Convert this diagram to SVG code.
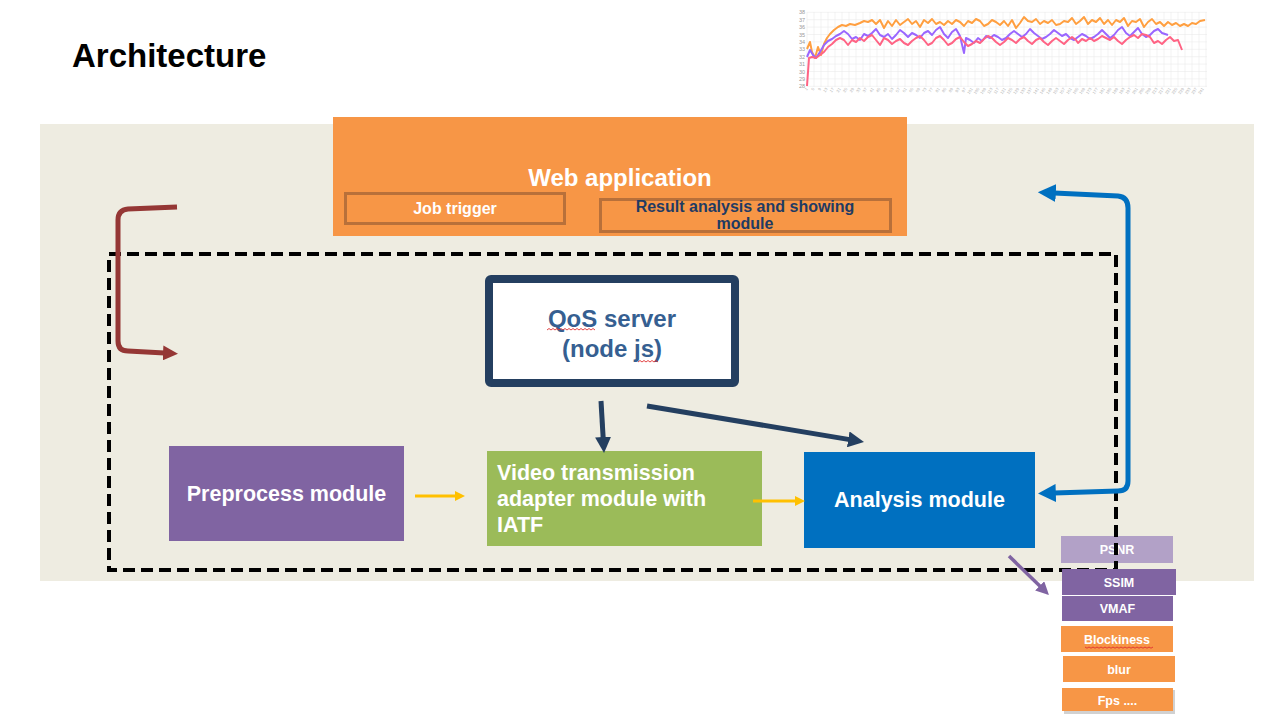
<svg xmlns="http://www.w3.org/2000/svg" width="1273" height="721" viewBox="0 0 1273 721">
<style>
  text { font-family: "Liberation Sans", Arial, sans-serif; font-weight: bold; }
  .w { fill: #ffffff; }
  .mid { text-anchor: middle; }
  .metric { font-size: 12.5px; fill: #ffffff; text-anchor: middle; }
  .grid { stroke: #ebebeb; stroke-width: 0.6; }
  .ylab { font-size: 5.5px; fill: #999999; font-weight: normal; text-anchor: end; }
  .xlab { font-size: 4px; fill: #aaaaaa; font-weight: normal; text-anchor: end; }
  .series { fill: none; stroke-width: 2; stroke-linejoin: round; }
  .squig { fill: none; stroke: #e03030; stroke-width: 0.9; }
</style>
<defs>
  <marker id="ahNavy" viewBox="0 0 10 10" refX="1" refY="5" markerUnits="userSpaceOnUse" markerWidth="16" markerHeight="16" orient="auto">
    <path d="M0,0 L10,5 L0,10 z" fill="#243F60"/>
  </marker>
  <marker id="ahRed" viewBox="0 0 10 10" refX="1" refY="5" markerUnits="userSpaceOnUse" markerWidth="15" markerHeight="15" orient="auto">
    <path d="M0,0 L10,5 L0,10 z" fill="#953735"/>
  </marker>
  <marker id="ahBlue" viewBox="0 0 10 10" refX="1" refY="5" markerUnits="userSpaceOnUse" markerWidth="18" markerHeight="18" orient="auto-start-reverse">
    <path d="M0,0 L10,5 L0,10 z" fill="#0070C0"/>
  </marker>
  <marker id="ahYellow" viewBox="0 0 10 10" refX="1" refY="5" markerUnits="userSpaceOnUse" markerWidth="10" markerHeight="10" orient="auto">
    <path d="M0,0 L10,5 L0,10 z" fill="#FFC000"/>
  </marker>
  <marker id="ahPurple" viewBox="0 0 10 10" refX="1" refY="5" markerUnits="userSpaceOnUse" markerWidth="13" markerHeight="13" orient="auto">
    <path d="M0,0 L10,5 L0,10 z" fill="#8064A2"/>
  </marker>
</defs>

<rect width="1273" height="721" fill="#ffffff"/>

<text x="72" y="67" font-size="33" fill="#000000">Architecture</text>

<!-- chart -->
<g id="chart">
  <g class="grid">
    <line x1="807" y1="12.3" x2="1207" y2="12.3"/>
    <line x1="807" y1="19.7" x2="1207" y2="19.7"/>
    <line x1="807" y1="27.1" x2="1207" y2="27.1"/>
    <line x1="807" y1="34.5" x2="1207" y2="34.5"/>
    <line x1="807" y1="41.9" x2="1207" y2="41.9"/>
    <line x1="807" y1="49.3" x2="1207" y2="49.3"/>
    <line x1="807" y1="56.7" x2="1207" y2="56.7"/>
    <line x1="807" y1="64.1" x2="1207" y2="64.1"/>
    <line x1="807" y1="71.5" x2="1207" y2="71.5"/>
    <line x1="807" y1="78.9" x2="1207" y2="78.9"/>
    <line x1="807" y1="86.3" x2="1207" y2="86.3"/>
    <line x1="807" y1="12" x2="807" y2="87"/><line x1="814" y1="12" x2="814" y2="87"/><line x1="821" y1="12" x2="821" y2="87"/><line x1="828" y1="12" x2="828" y2="87"/><line x1="835" y1="12" x2="835" y2="87"/><line x1="842" y1="12" x2="842" y2="87"/><line x1="849" y1="12" x2="849" y2="87"/><line x1="856" y1="12" x2="856" y2="87"/><line x1="863" y1="12" x2="863" y2="87"/><line x1="870" y1="12" x2="870" y2="87"/><line x1="877" y1="12" x2="877" y2="87"/><line x1="884" y1="12" x2="884" y2="87"/><line x1="891" y1="12" x2="891" y2="87"/><line x1="898" y1="12" x2="898" y2="87"/><line x1="905" y1="12" x2="905" y2="87"/><line x1="912" y1="12" x2="912" y2="87"/><line x1="919" y1="12" x2="919" y2="87"/><line x1="926" y1="12" x2="926" y2="87"/><line x1="933" y1="12" x2="933" y2="87"/><line x1="940" y1="12" x2="940" y2="87"/><line x1="947" y1="12" x2="947" y2="87"/><line x1="954" y1="12" x2="954" y2="87"/><line x1="961" y1="12" x2="961" y2="87"/><line x1="968" y1="12" x2="968" y2="87"/><line x1="975" y1="12" x2="975" y2="87"/><line x1="982" y1="12" x2="982" y2="87"/><line x1="989" y1="12" x2="989" y2="87"/><line x1="996" y1="12" x2="996" y2="87"/><line x1="1003" y1="12" x2="1003" y2="87"/><line x1="1010" y1="12" x2="1010" y2="87"/><line x1="1017" y1="12" x2="1017" y2="87"/><line x1="1024" y1="12" x2="1024" y2="87"/><line x1="1031" y1="12" x2="1031" y2="87"/><line x1="1038" y1="12" x2="1038" y2="87"/><line x1="1045" y1="12" x2="1045" y2="87"/><line x1="1052" y1="12" x2="1052" y2="87"/><line x1="1059" y1="12" x2="1059" y2="87"/><line x1="1066" y1="12" x2="1066" y2="87"/><line x1="1073" y1="12" x2="1073" y2="87"/><line x1="1080" y1="12" x2="1080" y2="87"/><line x1="1087" y1="12" x2="1087" y2="87"/><line x1="1094" y1="12" x2="1094" y2="87"/><line x1="1101" y1="12" x2="1101" y2="87"/><line x1="1108" y1="12" x2="1108" y2="87"/><line x1="1115" y1="12" x2="1115" y2="87"/><line x1="1122" y1="12" x2="1122" y2="87"/><line x1="1129" y1="12" x2="1129" y2="87"/><line x1="1136" y1="12" x2="1136" y2="87"/><line x1="1143" y1="12" x2="1143" y2="87"/><line x1="1150" y1="12" x2="1150" y2="87"/><line x1="1157" y1="12" x2="1157" y2="87"/><line x1="1164" y1="12" x2="1164" y2="87"/><line x1="1171" y1="12" x2="1171" y2="87"/><line x1="1178" y1="12" x2="1178" y2="87"/><line x1="1185" y1="12" x2="1185" y2="87"/><line x1="1192" y1="12" x2="1192" y2="87"/><line x1="1199" y1="12" x2="1199" y2="87"/><line x1="1206" y1="12" x2="1206" y2="87"/>
  </g>
  <text class="ylab" x="805" y="14.3">38</text>
  <text class="ylab" x="805" y="21.7">37</text>
  <text class="ylab" x="805" y="29.1">36</text>
  <text class="ylab" x="805" y="36.5">35</text>
  <text class="ylab" x="805" y="43.9">34</text>
  <text class="ylab" x="805" y="51.3">33</text>
  <text class="ylab" x="805" y="58.7">32</text>
  <text class="ylab" x="805" y="66.1">31</text>
  <text class="ylab" x="805" y="73.5">30</text>
  <text class="ylab" x="805" y="80.9">29</text>
  <text class="ylab" x="805" y="88.3">28</text>
  <g class="xlabs">
    <text class="xlab" transform="translate(808,89) rotate(-55)">1</text>
    <text class="xlab" transform="translate(814.6,89) rotate(-55)">5</text>
    <text class="xlab" transform="translate(821.2,89) rotate(-55)">9</text>
    <text class="xlab" transform="translate(827.8,89) rotate(-55)">13</text>
    <text class="xlab" transform="translate(834.4,89) rotate(-55)">17</text>
    <text class="xlab" transform="translate(841,89) rotate(-55)">21</text>
    <text class="xlab" transform="translate(847.6,89) rotate(-55)">25</text>
    <text class="xlab" transform="translate(854.2,89) rotate(-55)">29</text>
    <text class="xlab" transform="translate(860.8,89) rotate(-55)">33</text>
    <text class="xlab" transform="translate(867.4,89) rotate(-55)">37</text>
    <text class="xlab" transform="translate(874,89) rotate(-55)">41</text>
    <text class="xlab" transform="translate(880.6,89) rotate(-55)">45</text>
    <text class="xlab" transform="translate(887.2,89) rotate(-55)">49</text>
    <text class="xlab" transform="translate(893.8,89) rotate(-55)">53</text>
    <text class="xlab" transform="translate(900.4,89) rotate(-55)">57</text>
    <text class="xlab" transform="translate(907,89) rotate(-55)">61</text>
    <text class="xlab" transform="translate(913.6,89) rotate(-55)">65</text>
    <text class="xlab" transform="translate(920.2,89) rotate(-55)">69</text>
    <text class="xlab" transform="translate(926.8,89) rotate(-55)">73</text>
    <text class="xlab" transform="translate(933.4,89) rotate(-55)">77</text>
    <text class="xlab" transform="translate(940,89) rotate(-55)">81</text>
    <text class="xlab" transform="translate(946.6,89) rotate(-55)">85</text>
    <text class="xlab" transform="translate(953.2,89) rotate(-55)">89</text>
    <text class="xlab" transform="translate(959.8,89) rotate(-55)">93</text>
    <text class="xlab" transform="translate(966.4,89) rotate(-55)">97</text>
    <text class="xlab" transform="translate(973,89) rotate(-55)">101</text>
    <text class="xlab" transform="translate(979.6,89) rotate(-55)">105</text>
    <text class="xlab" transform="translate(986.2,89) rotate(-55)">109</text>
    <text class="xlab" transform="translate(992.8,89) rotate(-55)">113</text>
    <text class="xlab" transform="translate(999.4,89) rotate(-55)">117</text>
    <text class="xlab" transform="translate(1006,89) rotate(-55)">121</text>
    <text class="xlab" transform="translate(1012.6,89) rotate(-55)">125</text>
    <text class="xlab" transform="translate(1019.2,89) rotate(-55)">129</text>
    <text class="xlab" transform="translate(1025.8,89) rotate(-55)">133</text>
    <text class="xlab" transform="translate(1032.4,89) rotate(-55)">137</text>
    <text class="xlab" transform="translate(1039,89) rotate(-55)">141</text>
    <text class="xlab" transform="translate(1045.6,89) rotate(-55)">145</text>
    <text class="xlab" transform="translate(1052.2,89) rotate(-55)">149</text>
    <text class="xlab" transform="translate(1058.8,89) rotate(-55)">153</text>
    <text class="xlab" transform="translate(1065.4,89) rotate(-55)">157</text>
    <text class="xlab" transform="translate(1072,89) rotate(-55)">161</text>
    <text class="xlab" transform="translate(1078.6,89) rotate(-55)">165</text>
    <text class="xlab" transform="translate(1085.2,89) rotate(-55)">169</text>
    <text class="xlab" transform="translate(1091.8,89) rotate(-55)">173</text>
    <text class="xlab" transform="translate(1098.4,89) rotate(-55)">177</text>
    <text class="xlab" transform="translate(1105,89) rotate(-55)">181</text>
    <text class="xlab" transform="translate(1111.6,89) rotate(-55)">185</text>
    <text class="xlab" transform="translate(1118.2,89) rotate(-55)">189</text>
    <text class="xlab" transform="translate(1124.8,89) rotate(-55)">193</text>
    <text class="xlab" transform="translate(1131.4,89) rotate(-55)">197</text>
    <text class="xlab" transform="translate(1138,89) rotate(-55)">201</text>
    <text class="xlab" transform="translate(1144.6,89) rotate(-55)">205</text>
    <text class="xlab" transform="translate(1151.2,89) rotate(-55)">209</text>
    <text class="xlab" transform="translate(1157.8,89) rotate(-55)">213</text>
    <text class="xlab" transform="translate(1164.4,89) rotate(-55)">217</text>
    <text class="xlab" transform="translate(1171,89) rotate(-55)">221</text>
    <text class="xlab" transform="translate(1177.6,89) rotate(-55)">225</text>
    <text class="xlab" transform="translate(1184.2,89) rotate(-55)">229</text>
    <text class="xlab" transform="translate(1190.8,89) rotate(-55)">233</text>
    <text class="xlab" transform="translate(1197.4,89) rotate(-55)">237</text>
    <text class="xlab" transform="translate(1204,89) rotate(-55)">241</text>
  </g>
  <polyline class="series" stroke="#FF9F40" points="807,49 810,42 812,52 815,58 818,47 821,55 824,44 827,38 830,34 834,30 838,27 842,25 846,26 850,24 855,25 860,23 864,21 868,22 872,20 876,24 880,20 884,28 888,21 892,26 896,20 900,25 904,22 908,19 912,24 916,21 920,27 924,20 928,23 932,19 936,24 940,22 944,25 948,21 952,24 956,20 960,22 964,26 968,21 972,23 976,19 980,21 984,26 988,24 992,20 996,22 1000,25 1004,21 1008,26 1012,20 1016,28 1020,23 1024,17 1028,21 1032,22 1036,19 1040,24 1044,21 1048,23 1052,20 1056,25 1060,24 1064,21 1068,22 1072,18 1076,24 1080,21 1084,17 1088,24 1092,20 1096,22 1100,18 1104,24 1108,20 1112,25 1116,20 1120,22 1124,18 1128,26 1132,21 1136,22 1140,19 1144,27 1148,22 1152,19 1156,24 1160,22 1164,26 1168,22 1172,25 1176,23 1180,26 1184,24 1188,26 1192,23 1196,24 1200,21 1205,20"/>
  <polyline class="series" stroke="#9966FF" points="807,57 810,50 813,55 816,58 820,52 824,45 828,41 832,39 836,36 840,34 844,31 848,34 852,39 856,37 860,40 864,34 868,36 872,33 876,29 880,35 884,37 888,34 892,39 896,35 900,30 904,33 908,37 912,33 916,35 920,38 924,33 928,31 932,35 936,30 940,27 944,34 948,38 952,32 956,29 960,36 964,53 966,38 970,40 974,43 978,38 982,41 986,36 990,38 994,35 998,37 1002,40 1006,38 1010,34 1014,31 1018,34 1022,37 1026,34 1030,29 1034,33 1038,36 1042,39 1046,37 1050,34 1054,30 1058,33 1062,36 1066,34 1070,38 1074,40 1078,37 1082,34 1086,36 1090,39 1094,37 1098,34 1102,30 1106,34 1110,38 1114,35 1118,30 1122,27 1126,33 1130,36 1134,32 1138,28 1142,34 1146,37 1150,35 1154,31 1158,29 1162,33 1168,35"/>
  <polyline class="series" stroke="#FF6384" points="807,86 809,58 812,57 816,58 820,55 824,52 828,47 832,44 836,40 840,38 844,40 848,45 852,40 856,42 860,38 864,41 868,37 872,35 876,40 880,45 884,38 888,40 892,44 896,41 900,39 904,43 908,45 912,41 916,38 920,36 924,40 928,45 932,43 936,38 940,36 944,40 948,45 952,43 956,39 960,37 964,42 968,46 972,44 976,41 980,43 984,39 988,36 992,38 996,42 1000,45 1004,42 1008,38 1012,40 1016,43 1020,39 1024,37 1028,41 1032,44 1036,40 1040,38 1044,42 1048,45 1052,41 1056,38 1060,41 1064,44 1068,40 1072,37 1076,40 1078,43 1082,39 1086,41 1090,38 1094,41 1098,39 1102,36 1106,38 1110,40 1114,37 1118,41 1122,44 1126,40 1130,37 1134,35 1138,38 1142,34 1146,35 1150,37 1154,43 1158,41 1162,44 1166,40 1170,37 1174,41 1178,40 1182,50"/>
</g>

<!-- background panel -->
<rect x="40" y="124" width="1214" height="457" fill="#EEECE1"/>

<!-- web application -->
<g id="web-application">
  <rect x="333" y="117" width="574" height="119" fill="#F79646"/>
  <text class="w mid" x="620" y="186" font-size="24">Web application</text>
</g>
<g id="job-trigger">
  <rect x="345.5" y="193.5" width="219" height="30" fill="none" stroke="#B8703A" stroke-width="3"/>
  <text class="w mid" x="455" y="214" font-size="16">Job trigger</text>
</g>
<g id="result-analysis">
  <rect x="600.5" y="199.5" width="290" height="32" fill="none" stroke="#B8703A" stroke-width="3"/>
  <text class="mid" x="745" y="212" font-size="16" fill="#1F3B63">Result analysis and showing</text>
  <text class="mid" x="745" y="229" font-size="16" fill="#1F3B63">module</text>
</g>

<!-- QoS server -->
<g id="qos-server">
  <rect x="489" y="279" width="246" height="104" rx="2" fill="#ffffff" stroke="#243F60" stroke-width="8"/>
  <text class="mid" x="612" y="327" font-size="24" fill="#365F91">QoS server</text>
  <text class="mid" x="612" y="357" font-size="24" fill="#365F91">(node js)</text>
  <path class="squig" d="M547,330 l2,-1.5 l2,1.5 l2,-1.5 l2,1.5 l2,-1.5 l2,1.5 l2,-1.5 l2,1.5 l2,-1.5 l2,1.5 l2,-1.5 l2,1.5 l2,-1.5 l2,1.5 l2,-1.5 l2,1.5 l2,-1.5 l2,1.5 l2,-1.5 l2,1.5 l2,-1.5 l2,1.5 l2,-1.5 l2,1.5"/>
  <path class="squig" d="M638,362 l2,-1.5 l2,1.5 l2,-1.5 l2,1.5 l2,-1.5 l2,1.5 l2,-1.5 l2,1.5 l2,-1.5 l2,1.5"/>
</g>

<!-- modules -->
<g id="preprocess-module">
  <rect x="169" y="446" width="235" height="95" fill="#8064A2"/>
  <text class="w mid" x="286.5" y="501" font-size="21.5">Preprocess module</text>
</g>
<g id="video-transmission">
  <rect x="487" y="451" width="275" height="95" fill="#9BBB59"/>
  <text class="w" x="497" y="480" font-size="21.5">Video transmission</text>
  <text class="w" x="497" y="506" font-size="21.5">adapter module with</text>
  <text class="w" x="497" y="532" font-size="21.5">IATF</text>
</g>
<g id="analysis-module">
  <rect x="804" y="452" width="231" height="96" fill="#0070C0"/>
  <text class="w mid" x="919.5" y="507" font-size="21.5">Analysis module</text>
</g>

<!-- metrics -->
<g id="psnr">
  <rect x="1061" y="536" width="112" height="27" fill="#B2A1C7"/>
  <text class="metric" x="1117" y="554">PSNR</text>
</g>

<!-- dashed boundary -->
<rect id="boundary" x="109" y="254" width="1007" height="316" fill="none" stroke="#000000" stroke-width="4" stroke-dasharray="12,6"/>

<g id="ssim">
  <rect x="1062" y="569" width="114" height="26" fill="#8064A2"/>
  <text class="metric" x="1119" y="586.5">SSIM</text>
</g>
<g id="vmaf">
  <rect x="1062" y="596" width="111" height="25" fill="#8064A2"/>
  <text class="metric" x="1117.5" y="613">VMAF</text>
</g>
<g id="blockiness">
  <rect x="1061" y="626" width="112" height="26" fill="#F79646"/>
  <text class="metric" x="1117" y="644">Blockiness</text>
  <path class="squig" d="M1085,647 l2,1.2 l2,-1.2 l2,1.2 l2,-1.2 l2,1.2 l2,-1.2 l2,1.2 l2,-1.2 l2,1.2 l2,-1.2 l2,1.2 l2,-1.2 l2,1.2 l2,-1.2 l2,1.2 l2,-1.2 l2,1.2 l2,-1.2 l2,1.2 l2,-1.2 l2,1.2 l2,-1.2 l2,1.2 l2,-1.2 l2,1.2 l2,-1.2 l2,1.2 l2,-1.2 l2,1.2 l2,-1.2 l2,1.2 l2,-1.2 l2,1.2 l2,-1.2"/>
</g>
<g id="blur">
  <rect x="1063" y="656" width="112" height="26" fill="#F79646"/>
  <text class="metric" x="1119" y="674">blur</text>
</g>
<g id="fps">
  <rect x="1064" y="690" width="111" height="24" fill="#000000" opacity="0.18"/>
  <rect x="1062" y="688" width="111" height="23" fill="#F79646"/>
  <text class="metric" x="1117.5" y="704.5">Fps ....</text>
</g>

<!-- connectors -->
<g id="connectors" fill="none" stroke-linecap="butt">
  <path d="M177,207 L128,209 Q118,210 118,220 L118,341 Q118,351 128,351 L164.5,353" stroke="#953735" stroke-width="5" marker-end="url(#ahRed)"/>
  <path d="M1054,193 L1118,196 Q1128,197 1128,208 L1128,481 Q1128,491 1118,491 L1054,493" stroke="#0070C0" stroke-width="5" marker-start="url(#ahBlue)" marker-end="url(#ahBlue)"/>
  <line x1="601" y1="401" x2="603.2" y2="438.6" stroke="#243F60" stroke-width="5" marker-end="url(#ahNavy)"/>
  <line x1="647" y1="406" x2="849.8" y2="439.6" stroke="#243F60" stroke-width="5" marker-end="url(#ahNavy)"/>
  <line x1="415" y1="496" x2="456" y2="496" stroke="#FFC000" stroke-width="3" marker-end="url(#ahYellow)"/>
  <line x1="753" y1="501" x2="796" y2="501" stroke="#FFC000" stroke-width="3" marker-end="url(#ahYellow)"/>
  <line x1="1009" y1="556" x2="1040.6" y2="586.8" stroke="#8064A2" stroke-width="3.5" marker-end="url(#ahPurple)"/>
</g>
</svg>
